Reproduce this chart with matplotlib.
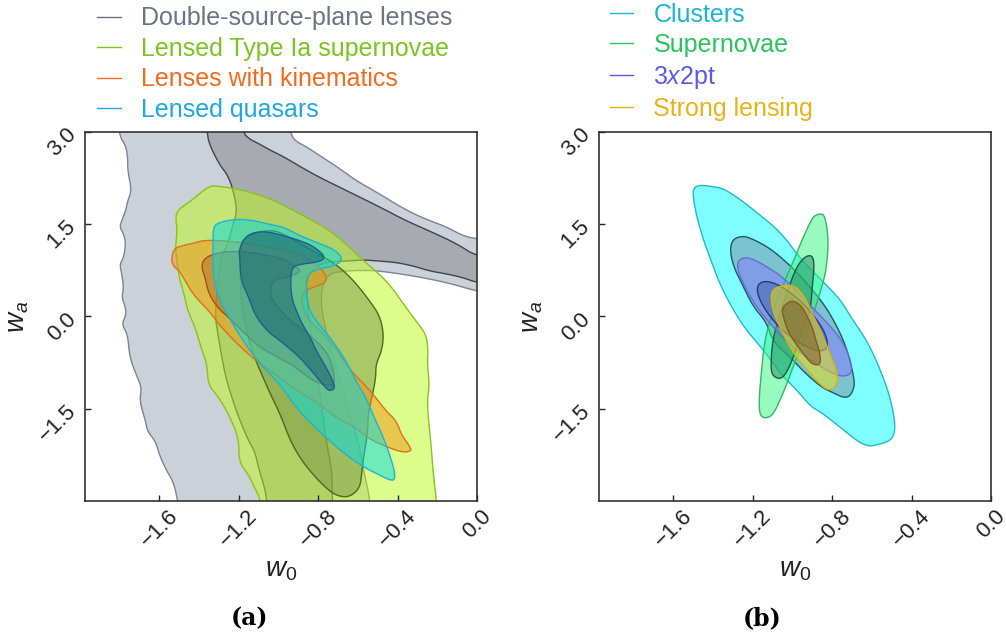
import numpy as np
import matplotlib.pyplot as plt
from matplotlib.lines import Line2D
from matplotlib.colors import to_rgba

plt.rcParams['font.family'] = ['Liberation Sans', 'DejaVu Sans']
plt.rcParams['mathtext.fontset'] = 'custom'
plt.rcParams['mathtext.it'] = 'Liberation Sans:italic'
plt.rcParams['mathtext.rm'] = 'Liberation Sans'

## contour outlines (w0, wa), outer = 95%, inner = 68%
## panel (a)
dspl_out = [(-1.82, 3.4), (-1.80, 2.92), (-1.77, 2.78), (-1.76, 2.59), (-1.76, 2.37), (-1.74, 2.05),
            (-1.76, 1.88), (-1.77, 1.72), (-1.79, 1.56), (-1.80, 1.45), (-1.78, 1.34), (-1.77, 1.18),
            (-1.78, 0.96), (-1.80, 0.85), (-1.79, 0.69), (-1.78, 0.47), (-1.79, 0.31), (-1.77, 0.14),
            (-1.77, 0.01), (-1.79, -0.13), (-1.76, -0.29), (-1.75, -0.67), (-1.71, -1.00), (-1.69, -1.16),
            (-1.70, -1.38), (-1.67, -1.70), (-1.66, -1.87), (-1.62, -2.03), (-1.60, -2.25), (-1.57, -2.47),
            (-1.53, -2.69), (-1.51, -2.96), (-1.49, -3.4),
            (-0.53, -3.4), (-0.54, -2.96), (-0.57, -2.52), (-0.59, -2.14), (-0.64, -1.60), (-0.69, -1.05),
            (-0.74, -0.51), (-0.78, 0.04), (-0.785, 0.31), (-0.78, 0.47), (-0.76, 0.63), (-0.73, 0.71),
            (-0.66, 0.74), (-0.57, 0.75), (-0.49, 0.74), (-0.32, 0.66), (-0.15, 0.55), (0.0, 0.41), (0.3, 0.2),
            (0.3, 1.15), (0.0, 1.26), (-0.07, 1.31), (-0.15, 1.45), (-0.24, 1.56), (-0.32, 1.67), (-0.41, 1.83),
            (-0.49, 1.99), (-0.61, 2.21), (-0.69, 2.40), (-0.78, 2.59), (-0.86, 2.76), (-0.92, 2.86),
            (-0.94, 3.00), (-0.97, 3.4)]
dspl_in = [(-1.37, 3.4), (-1.36, 3.00), (-1.35, 2.81), (-1.30, 2.48), (-1.25, 2.27), (-1.22, 1.94),
           (-1.21, 1.69), (-1.23, 1.50), (-1.25, 1.23), (-1.29, 0.96), (-1.30, 0.69), (-1.31, 0.41),
           (-1.32, 0.01), (-1.30, -0.40), (-1.27, -0.94), (-1.24, -1.27), (-1.20, -1.65), (-1.15, -2.03),
           (-1.12, -2.19), (-1.10, -2.47), (-1.07, -2.79), (-1.06, -2.98), (-1.05, -3.4),
           (-0.72, -3.4), (-0.73, -2.96), (-0.73, -2.52), (-0.76, -2.03), (-0.78, -1.49), (-0.81, -0.89),
           (-0.83, -0.51), (-0.84, -0.13), (-0.85, 0.01), (-0.86, 0.52), (-0.84, 0.74), (-0.79, 0.85),
           (-0.74, 0.89), (-0.66, 0.90), (-0.57, 0.92), (-0.49, 0.90), (-0.41, 0.88), (-0.32, 0.82),
           (-0.24, 0.74), (-0.15, 0.69), (-0.07, 0.63), (0.0, 0.55), (0.3, 0.35),
           (0.3, 0.8), (0.0, 0.97), (-0.10, 1.18), (-0.24, 1.39), (-0.36, 1.56), (-0.49, 1.78), (-0.66, 2.05),
           (-0.83, 2.32), (-0.97, 2.59), (-1.04, 2.70), (-1.10, 2.81), (-1.15, 2.89), (-1.18, 3.00), (-1.19, 3.4)]

sn_out = [(-1.34, 2.13), (-1.29, 2.11), (-1.24, 2.09), (-1.14, 2.02), (-1.04, 1.91), (-0.94, 1.75),
          (-0.83, 1.56), (-0.74, 1.39), (-0.66, 1.18), (-0.57, 0.90), (-0.51, 0.74), (-0.44, 0.52),
          (-0.37, 0.20), (-0.32, -0.02), (-0.27, -0.23), (-0.255, -0.34), (-0.247, -0.51), (-0.25, -0.8),
          (-0.24, -1.1), (-0.25, -1.35), (-0.247, -1.60), (-0.23, -2.14), (-0.22, -2.58), (-0.205, -2.96),
          (-0.20, -3.4), (-1.09, -3.4), (-1.09, -2.98), (-1.12, -2.79), (-1.15, -2.58), (-1.20, -2.36),
          (-1.20, -1.98), (-1.25, -1.60), (-1.30, -1.32), (-1.355, -1.11), (-1.36, -0.78), (-1.39, -0.51),
          (-1.42, -0.18), (-1.45, 0.04), (-1.46, 0.14), (-1.48, 0.41), (-1.50, 0.63), (-1.51, 0.85),
          (-1.52, 1.12), (-1.51, 1.39), (-1.52, 1.64), (-1.50, 1.75), (-1.44, 1.88), (-1.39, 2.02)]
sn_in = [(-1.195, 1.18), (-1.16, 1.30), (-1.11, 1.37), (-1.04, 1.40), (-0.99, 1.37), (-0.83, 1.07),
         (-0.71, 0.85), (-0.62, 0.58), (-0.54, 0.25), (-0.49, 0.01), (-0.47, -0.29), (-0.48, -0.56),
         (-0.51, -0.78), (-0.51, -1.00), (-0.53, -1.32), (-0.55, -1.60), (-0.55, -1.87), (-0.57, -2.25),
         (-0.58, -2.52), (-0.59, -2.79), (-0.64, -2.93), (-0.69, -2.93), (-0.74, -2.85), (-0.81, -2.63),
         (-0.88, -2.36), (-0.94, -2.03), (-0.99, -1.60), (-1.04, -1.27), (-1.10, -0.83), (-1.14, -0.51),
         (-1.18, 0.04), (-1.19, 0.42), (-1.195, 0.86)]

kin_out = [(-1.54, 0.93), (-1.53, 1.07), (-1.51, 1.13), (-1.42, 1.20), (-1.37, 1.24), (-1.27, 1.23),
           (-1.14, 1.18), (-1.04, 1.12), (-0.97, 1.09), (-0.91, 1.04), (-0.84, 0.91), (-0.79, 0.80),
           (-0.76, 0.66), (-0.76, 0.56), (-0.80, 0.50), (-0.85, 0.45), (-0.885, 0.34), (-0.876, 0.09),
           (-0.826, -0.13), (-0.725, -0.45), (-0.66, -0.78), (-0.61, -0.97), (-0.56, -1.13), (-0.515, -1.30),
           (-0.457, -1.54), (-0.406, -1.70), (-0.381, -1.92), (-0.339, -2.11), (-0.331, -2.19),
           (-0.373, -2.21), (-0.44, -2.14), (-0.54, -2.00), (-0.61, -1.81), (-0.71, -1.65), (-0.81, -1.38),
           (-0.91, -1.21), (-0.99, -1.00), (-1.09, -0.78), (-1.17, -0.56), (-1.24, -0.34), (-1.30, -0.13),
           (-1.35, 0.09), (-1.40, 0.25), (-1.44, 0.41), (-1.47, 0.58), (-1.50, 0.74), (-1.53, 0.82)]
kin_in = [(-1.39, 0.82), (-1.37, 0.96), (-1.30, 1.04), (-1.22, 1.06), (-1.14, 1.04), (-1.05, 0.99),
          (-0.97, 0.93), (-0.93, 0.85), (-0.885, 0.74), (-0.93, 0.66), (-0.97, 0.63), (-1.02, 0.60),
          (-1.04, 0.47), (-1.04, 0.31), (-1.00, 0.14), (-0.96, -0.02), (-0.89, -0.18), (-0.83, -0.34),
          (-0.76, -0.56), (-0.725, -0.83), (-0.717, -1.11), (-0.74, -1.13), (-0.83, -1.05), (-0.91, -0.83),
          (-1.00, -0.67), (-1.09, -0.51), (-1.15, -0.34), (-1.20, -0.18), (-1.27, 0.04), (-1.29, 0.09),
          (-1.33, 0.25), (-1.355, 0.41), (-1.37, 0.63)]

qso_out = [(-1.33, 1.12), (-1.33, 1.45), (-1.30, 1.53), (-1.22, 1.58), (-1.14, 1.57), (-1.05, 1.50),
           (-0.97, 1.45), (-0.91, 1.34), (-0.83, 1.23), (-0.74, 1.12), (-0.69, 1.01), (-0.68, 0.90),
           (-0.725, 0.82), (-0.79, 0.78), (-0.84, 0.72), (-0.86, 0.61), (-0.86, 0.36), (-0.84, 0.04),
           (-0.74, -0.34), (-0.66, -0.72), (-0.61, -1.05), (-0.56, -1.32), (-0.51, -1.70), (-0.47, -1.98),
           (-0.44, -2.25), (-0.415, -2.52), (-0.415, -2.66), (-0.44, -2.66), (-0.49, -2.58), (-0.56, -2.47),
           (-0.66, -2.25), (-0.74, -2.03), (-0.83, -1.76), (-0.91, -1.49), (-0.99, -1.11), (-1.06, -0.89),
           (-1.13, -0.62), (-1.20, -0.29), (-1.26, 0.04), (-1.31, 0.36), (-1.33, 0.69)]
qso_in = [(-1.20, 1.07), (-1.17, 1.29), (-1.12, 1.37), (-1.06, 1.38), (-0.98, 1.32), (-0.89, 1.23),
          (-0.83, 1.15), (-0.775, 1.01), (-0.77, 0.93), (-0.81, 0.88), (-0.89, 0.85), (-0.93, 0.80),
          (-0.94, 0.63), (-0.935, 0.31), (-0.91, 0.09), (-0.88, -0.13), (-0.84, -0.34), (-0.81, -0.56),
          (-0.76, -0.83), (-0.717, -1.11), (-0.722, -1.19), (-0.75, -1.21), (-0.79, -1.05), (-0.89, -0.67),
          (-0.99, -0.40), (-1.06, -0.23), (-1.12, 0.03), (-1.15, 0.31), (-1.19, 0.58), (-1.195, 0.96)]

## panel (b)
clu_out = [(-1.50, 2.08), (-1.47, 2.14), (-1.40, 2.11), (-1.35, 2.08), (-1.27, 1.92), (-1.16, 1.64),
           (-1.06, 1.37), (-0.96, 0.94), (-0.86, 0.61), (-0.76, 0.28), (-0.70, -0.04), (-0.63, -0.37),
           (-0.58, -0.70), (-0.54, -1.02), (-0.51, -1.30), (-0.485, -1.68), (-0.485, -1.90), (-0.51, -2.03),
           (-0.58, -2.09), (-0.61, -2.11), (-0.66, -2.06), (-0.745, -1.84), (-0.85, -1.57), (-0.91, -1.46),
           (-0.98, -1.19), (-1.05, -0.97), (-1.11, -0.70), (-1.18, -0.42), (-1.25, -0.15), (-1.32, 0.23),
           (-1.37, 0.56), (-1.42, 0.99), (-1.45, 1.26), (-1.48, 1.59), (-1.50, 1.92)]
clu_in = [(-1.30, 1.26), (-1.25, 1.31), (-1.20, 1.26), (-1.11, 1.10), (-1.03, 0.88), (-0.96, 0.66),
          (-0.86, 0.28), (-0.795, -0.04), (-0.73, -0.48), (-0.695, -0.92), (-0.686, -1.13), (-0.71, -1.30),
          (-0.745, -1.32), (-0.795, -1.24), (-0.85, -1.16), (-0.93, -0.94), (-1.01, -0.67), (-1.10, -0.40),
          (-1.13, -0.10), (-1.20, 0.17), (-1.25, 0.50), (-1.30, 0.83), (-1.315, 1.10)]

sn2_out = [(-0.86, 1.67), (-0.84, 1.65), (-0.825, 1.43), (-0.82, 1.15), (-0.83, 0.77), (-0.85, 0.50),
           (-0.88, 0.20), (-0.91, -0.13), (-0.98, -0.67), (-1.03, -1.11), (-1.08, -1.49), (-1.11, -1.64),
           (-1.16, -1.65), (-1.17, -1.43), (-1.16, -1.00), (-1.14, -0.37), (-1.10, 0.07), (-1.05, 0.50),
           (-0.99, 0.94), (-0.95, 1.26), (-0.91, 1.54), (-0.89, 1.64)]
sn2_in = [(-0.94, 0.97), (-0.90, 1.00), (-0.89, 0.83), (-0.90, 0.50), (-0.91, 0.09), (-0.95, -0.23),
          (-0.99, -0.62), (-1.03, -0.92), (-1.06, -1.02), (-1.10, -0.97), (-1.11, -0.81), (-1.10, -0.37),
          (-1.06, 0.07), (-1.02, 0.47), (-0.98, 0.80)]

x2_out = [(-1.28, 0.88), (-1.25, 0.96), (-1.20, 0.94), (-1.11, 0.77), (-1.05, 0.64), (-0.95, 0.31),
          (-0.85, -0.02), (-0.76, -0.34), (-0.71, -0.67), (-0.70, -0.89), (-0.72, -0.96), (-0.76, -0.97),
          (-0.80, -0.92), (-0.86, -0.81), (-0.95, -0.62), (-1.03, -0.40), (-1.11, -0.13), (-1.18, 0.15),
          (-1.23, 0.42), (-1.27, 0.69)]
x2_in = [(-1.17, 0.54), (-1.13, 0.58), (-1.06, 0.50), (-1.00, 0.36), (-0.95, 0.23), (-0.90, 0.04),
         (-0.85, -0.18), (-0.825, -0.37), (-0.825, -0.52), (-0.86, -0.57), (-0.91, -0.52), (-0.98, -0.40),
         (-1.05, -0.23), (-1.11, -0.02), (-1.16, 0.23), (-1.18, 0.42)]

sl_out = [(-1.11, 0.36), (-1.09, 0.46), (-1.05, 0.50), (-1.01, 0.51), (-0.97, 0.45), (-0.93, 0.26),
          (-0.90, 0.04), (-0.85, -0.29), (-0.81, -0.62), (-0.78, -0.86), (-0.77, -1.05), (-0.79, -1.16),
          (-0.82, -1.20), (-0.86, -1.11), (-0.92, -0.89), (-0.98, -0.67), (-1.03, -0.40), (-1.07, -0.13),
          (-1.10, 0.09)]
sl_in = [(-1.055, 0.12), (-1.03, 0.21), (-1.00, 0.26), (-0.96, 0.19), (-0.93, 0.03), (-0.90, -0.18),
         (-0.88, -0.41), (-0.86, -0.62), (-0.86, -0.79), (-0.90, -0.78), (-0.93, -0.67), (-0.98, -0.46),
         (-1.02, -0.26), (-1.04, -0.08)]

labels_a = ['Double-source-plane lenses', 'Lensed Type Ia supernovae', 'Lenses with kinematics', 'Lensed quasars']
labels_b = ['Clusters', 'Supernovae', '3$x$2pt', 'Strong lensing']
xticks = [-1.6, -1.2, -0.8, -0.4, 0.0]
yticks = [-1.5, 0.0, 1.5, 3.0]

# (outer, inner, outer face, inner face, outer edge, inner edge, legend colour)
series_a = [
    (dspl_out, dspl_in, '#9ba3b5', '#838586', '#7c8394', '#3f4450', '#6b7385'),
    (sn_out, sn_in, '#bbfb1a', '#789646', '#8cc21a', '#4d6b1c', '#7cc520'),
    (kin_out, kin_in, '#f39314', '#aa6e28', '#d9731c', '#a8501a', '#f36b1e'),
    (qso_out, qso_in, '#00dce6', '#145a6e', '#1fb3cf', '#1f5f8f', '#1ea8e0'),
]
series_b = [
    (clu_out, clu_in, '#00ffff', '#7888a0', '#20b8c8', '#1d5a66', '#1ab5d5'),
    (sn2_out, sn2_in, '#33f781', '#288c5a', '#2fb866', '#1f5a40', '#28c45e'),
    (x2_out, x2_in, '#827dfe', '#4060aa', '#6a6ad8', '#2e3580', '#5a5ae6'),
    (sl_out, sl_in, '#f5e10a', '#785a28', '#d4b414', '#8a5a1a', '#eab21a'),
]


def chaikin(pts, n=2):
    # corner cutting so the read-off polygons look like smooth contours
    p = np.asarray(pts, float)
    for _ in range(n):
        q = np.roll(p, -1, axis=0)
        new = np.empty((2 * len(p), 2))
        new[0::2] = 0.75 * p + 0.25 * q
        new[1::2] = 0.25 * p + 0.75 * q
        p = new
    return p


fig = plt.figure(figsize=(10.06, 6.39), dpi=100)
ax1 = fig.add_axes([0.0845, 0.216, 0.3897, 0.5775])
ax2 = fig.add_axes([0.5954, 0.216, 0.3897, 0.5775])

for ax, series, labels, lx, ly in [(ax1, series_a, labels_a, 0.0965, 0.990),
                                   (ax2, series_b, labels_b, 0.606, 0.996)]:
    handles = []
    for outer, inner, fo, fi, eo, ei, lc in series:
        for pts, fc, ec in [(outer, fo, eo), (inner, fi, ei)]:
            p = chaikin(pts)
            ax.fill(p[:, 0], p[:, 1], facecolor=to_rgba(fc, 0.5), edgecolor=ec, lw=1.0)
        handles.append(Line2D([], [], color=lc, lw=1.0))
    ax.set_xlim(-1.975, 0.0)
    ax.set_ylim(-3.0, 3.0)
    ax.set_xticks(xticks)
    ax.set_yticks(yticks)
    ax.tick_params(direction='in', length=4, width=1, labelsize=16, colors='#222222',
                   top=False, right=False)
    for lab in ax.get_xticklabels():
        lab.set_rotation(45)
    for lab in ax.get_yticklabels():
        lab.set_rotation(45)
    for s in ax.spines.values():
        s.set_color('#333333')
        s.set_linewidth(1.2)
    ax.set_xlabel('$w_0$', fontsize=20, labelpad=4, color='#222222')
    ax.set_ylabel('$w_a$', fontsize=20, labelpad=2, color='#222222')
    ax.legend(handles, labels, loc='upper left', bbox_to_anchor=(lx, ly),
              bbox_transform=fig.transFigure, frameon=False, fontsize=18,
              labelcolor='linecolor', handlelength=0.95, handletextpad=0.8,
              labelspacing=0.26, borderpad=0, borderaxespad=0)

fig.text(0.248, 0.033, '(a)', ha='center', va='center', fontsize=17,
         fontfamily='DejaVu Serif', fontweight='bold')
fig.text(0.758, 0.033, '(b)', ha='center', va='center', fontsize=17,
         fontfamily='DejaVu Serif', fontweight='bold')

fig.savefig('out.png', dpi=100)
